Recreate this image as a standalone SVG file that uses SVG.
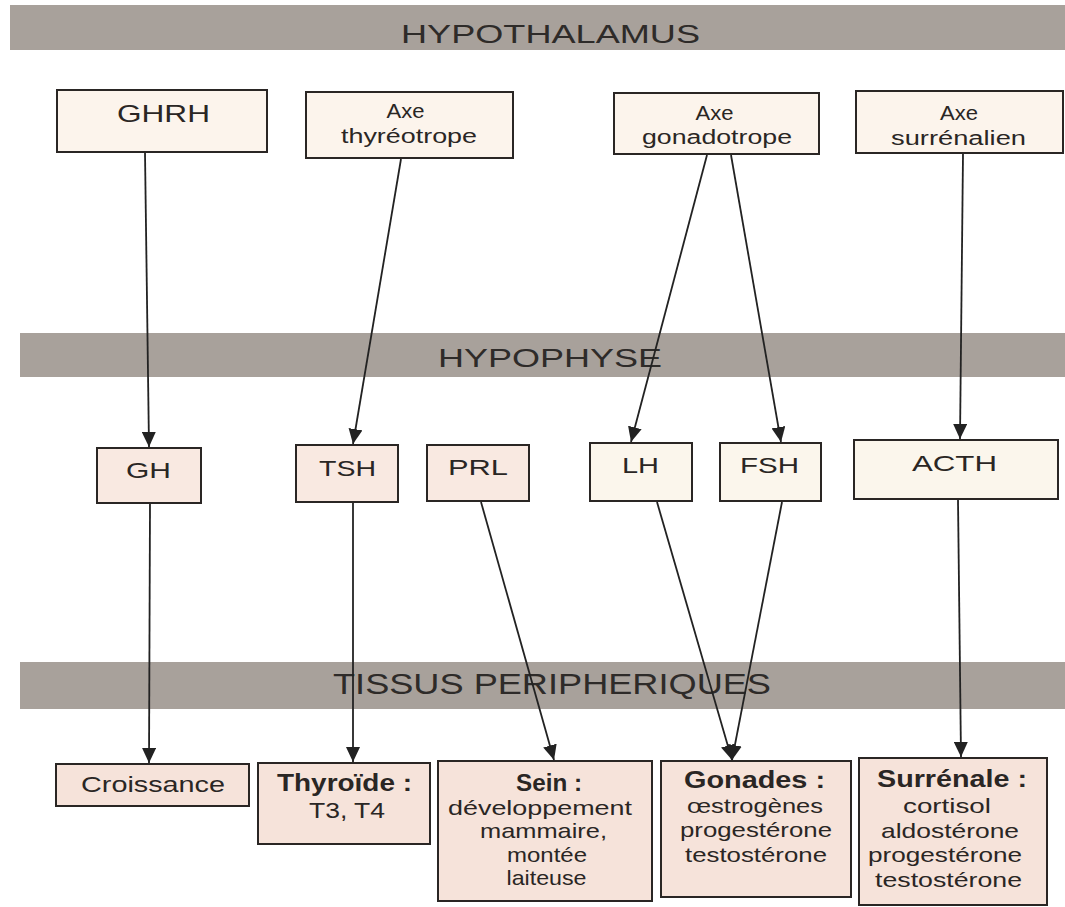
<svg xmlns="http://www.w3.org/2000/svg" width="1065" height="907" viewBox="0 0 1065 907">
<style>
.band{fill:#a8a19b}
.bt{font-family:"Liberation Sans",Arial,sans-serif;fill:#2e2b29;text-anchor:middle}
.box{stroke:#2a2624;stroke-width:2}
.top{fill:#fcf4ec}
.mid1{fill:#f9e9e1}
.mid2{fill:#fbf6ec}
.low{fill:#f6e3da}
.t{font-family:"Liberation Sans",Arial,sans-serif;fill:#2a2624;text-anchor:middle}
.b{font-weight:bold}
.conn line{stroke:#222;stroke-width:1.8;marker-end:url(#ah)}
</style>
<defs>
<marker id="ah" markerUnits="userSpaceOnUse" markerWidth="16" markerHeight="14" refX="15" refY="7" orient="auto">
<path d="M0,0 L15,7 L0,14 Z" fill="#222"/>
</marker>
</defs>
<rect width="1065" height="907" fill="#ffffff"/>

<g id="band-hypothalamus">
<rect class="band" x="10" y="5" width="1055" height="45"/>
<text class="bt" x="550.5" y="43" font-size="25" textLength="299" lengthAdjust="spacingAndGlyphs">HYPOTHALAMUS</text>
</g>
<g id="band-hypophyse">
<rect class="band" x="20" y="333" width="1045" height="44"/>
<text class="bt" x="550" y="367" font-size="26" textLength="224" lengthAdjust="spacingAndGlyphs">HYPOPHYSE</text>
</g>
<g id="band-tissus">
<rect class="band" x="20" y="662" width="1045" height="47"/>
<text class="bt" x="552" y="694" font-size="29" textLength="438" lengthAdjust="spacingAndGlyphs">TISSUS PERIPHERIQUES</text>
</g>

<g id="ghrh">
<rect class="box top" x="57" y="90" width="210" height="62"/>
<text class="t" x="163.5" y="122" font-size="24" textLength="93" lengthAdjust="spacingAndGlyphs">GHRH</text>
</g>
<g id="axe-thyreotrope">
<rect class="box top" x="306" y="92" width="207" height="66"/>
<text class="t" x="405.5" y="118" font-size="20" textLength="38" lengthAdjust="spacingAndGlyphs">Axe</text>
<text class="t" x="409" y="143" font-size="20" textLength="136" lengthAdjust="spacingAndGlyphs">thyréotrope</text>
</g>
<g id="axe-gonadotrope">
<rect class="box top" x="614" y="93" width="205" height="61"/>
<text class="t" x="714.5" y="120" font-size="20" textLength="38" lengthAdjust="spacingAndGlyphs">Axe</text>
<text class="t" x="717" y="144" font-size="20" textLength="150" lengthAdjust="spacingAndGlyphs">gonadotrope</text>
</g>
<g id="axe-surrenalien">
<rect class="box top" x="856" y="91" width="207" height="62"/>
<text class="t" x="959" y="120" font-size="20" textLength="38" lengthAdjust="spacingAndGlyphs">Axe</text>
<text class="t" x="958.5" y="145" font-size="20" textLength="135" lengthAdjust="spacingAndGlyphs">surrénalien</text>
</g>

<g id="gh">
<rect class="box mid1" x="97" y="448" width="104" height="55"/>
<text class="t" x="148.5" y="478" font-size="22" textLength="45" lengthAdjust="spacingAndGlyphs">GH</text>
</g>
<g id="tsh">
<rect class="box mid1" x="296" y="445" width="102" height="57"/>
<text class="t" x="347.5" y="476" font-size="22" textLength="57" lengthAdjust="spacingAndGlyphs">TSH</text>
</g>
<g id="prl">
<rect class="box mid1" x="427" y="445" width="102" height="56"/>
<text class="t" x="478" y="475" font-size="22" textLength="60" lengthAdjust="spacingAndGlyphs">PRL</text>
</g>
<g id="lh">
<rect class="box mid2" x="590" y="443" width="102" height="58"/>
<text class="t" x="640.5" y="473" font-size="22" textLength="37" lengthAdjust="spacingAndGlyphs">LH</text>
</g>
<g id="fsh">
<rect class="box mid2" x="720" y="443" width="101" height="58"/>
<text class="t" x="769.5" y="473" font-size="22" textLength="59" lengthAdjust="spacingAndGlyphs">FSH</text>
</g>
<g id="acth">
<rect class="box mid2" x="854" y="440" width="204" height="59"/>
<text class="t" x="954.5" y="471" font-size="22" textLength="85" lengthAdjust="spacingAndGlyphs">ACTH</text>
</g>

<g id="croissance">
<rect class="box low" x="56" y="764" width="193" height="42"/>
<text class="t" x="153" y="792" font-size="22" textLength="144" lengthAdjust="spacingAndGlyphs">Croissance</text>
</g>
<g id="thyroide">
<rect class="box low" x="258" y="763" width="172" height="81"/>
<text class="t b" x="344.5" y="791" font-size="23" textLength="135" lengthAdjust="spacingAndGlyphs">Thyroïde :</text>
<text class="t" x="347" y="818" font-size="22" textLength="76" lengthAdjust="spacingAndGlyphs">T3, T4</text>
</g>
<g id="sein">
<rect class="box low" x="438" y="761" width="214" height="140"/>
<text class="t b" x="549" y="791" font-size="23" textLength="66" lengthAdjust="spacingAndGlyphs">Sein :</text>
<text class="t" x="540" y="815" font-size="21" textLength="184" lengthAdjust="spacingAndGlyphs">développement</text>
<text class="t" x="543.5" y="838" font-size="21" textLength="127" lengthAdjust="spacingAndGlyphs">mammaire,</text>
<text class="t" x="547" y="862" font-size="21" textLength="80" lengthAdjust="spacingAndGlyphs">montée</text>
<text class="t" x="546.5" y="885" font-size="21" textLength="80" lengthAdjust="spacingAndGlyphs">laiteuse</text>
</g>
<g id="gonades">
<rect class="box low" x="661" y="761" width="190" height="136"/>
<text class="t b" x="754.5" y="788" font-size="23" textLength="141" lengthAdjust="spacingAndGlyphs">Gonades :</text>
<text class="t" x="755" y="813" font-size="21" textLength="136" lengthAdjust="spacingAndGlyphs">œstrogènes</text>
<text class="t" x="756" y="837" font-size="21" textLength="152" lengthAdjust="spacingAndGlyphs">progestérone</text>
<text class="t" x="756" y="862" font-size="21" textLength="142" lengthAdjust="spacingAndGlyphs">testostérone</text>
</g>
<g id="surrenale">
<rect class="box low" x="859" y="758" width="188" height="147"/>
<text class="t b" x="952" y="787" font-size="23" textLength="150" lengthAdjust="spacingAndGlyphs">Surrénale :</text>
<text class="t" x="947" y="813" font-size="21" textLength="88" lengthAdjust="spacingAndGlyphs">cortisol</text>
<text class="t" x="950" y="838" font-size="21" textLength="138" lengthAdjust="spacingAndGlyphs">aldostérone</text>
<text class="t" x="945" y="862" font-size="21" textLength="154" lengthAdjust="spacingAndGlyphs">progestérone</text>
<text class="t" x="948.5" y="887" font-size="21" textLength="147" lengthAdjust="spacingAndGlyphs">testostérone</text>
</g>

<g id="connectors" class="conn">
<line x1="145" y1="153" x2="149" y2="447"/>
<line x1="401" y1="159" x2="353" y2="444"/>
<line x1="707" y1="155" x2="631" y2="442"/>
<line x1="731" y1="155" x2="781" y2="442"/>
<line x1="963" y1="154" x2="960" y2="439"/>
<line x1="150" y1="504" x2="149" y2="763"/>
<line x1="353" y1="503" x2="353" y2="762"/>
<line x1="481" y1="502" x2="554" y2="760"/>
<line x1="657" y1="502" x2="732" y2="760"/>
<line x1="782" y1="502" x2="732" y2="760"/>
<line x1="958" y1="500" x2="961" y2="757"/>
</g>
</svg>
